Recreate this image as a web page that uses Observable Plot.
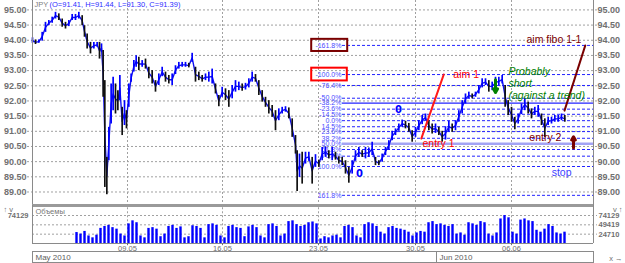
<!DOCTYPE html>
<html><head><meta charset="utf-8">
<script src="https://cdn.jsdelivr.net/npm/d3@7"></script>
<script src="https://cdn.jsdelivr.net/npm/@observablehq/plot@0.6"></script>
<style>
body{margin:0;background:#fff;width:625px;height:263px;overflow:hidden;position:relative}
#price,#vol,#month{position:absolute;left:0}
#price{top:0}
#vol{top:203px}
#month{top:251px}
svg{display:block;overflow:visible}
g[aria-label="y-axis tick label"] text{font-weight:bold}
</style></head><body>
<div id="price"></div><div id="vol"></div><div id="month"></div>
<script>
// ---------- data ----------
const symbol = "JPY";
const lastBarKeys = ["O","H","L","C"];
const lastBarVals = [91.41, 91.44, 91.30, 91.39];

// hourly bars sampled (bar index, high, low)
const barIdx = [0,3.75,7.9,12.1,16.25,20.4,24.6,28.75,32.9,37.1,41.25,45.4,49.6,53.75,57.9,62.1,65,68.3,72.5,76.7,80.8,83.75,86.25,88.3,90.4,92.9,95.4,98.3,100.8,103.75,106.7,109.2,112.1,115,117.5,120.4,123.3,126.7,129.6,132.9,137.1,141.25,145.4,149.6,153.75,157.9,162.1,166.25,170.4,174.6,178.75,182.9,187.1,191.25,195.4,199.6,203.75,207.9,212.1,216.25,220.4,224.6,228.75,232.9,
237.1,241.25,245.4,249.6,253.75,257.9,262.1,266.25,270.4,274.6,278.75,282.9,287.1,291.25,295.4,299.6,303.75,307.9,312.1,316.25,320.4,324.6,328.75,330.8,333.75,337.1,341.25,345.4,349.6,353.75,357.9,362.1,366.25,370.4,374.6,378.75,382.9,387.1,391.25,395.4,399.6,403.75,407.9,412.1,416.25,420.4,424.6,428.75,432.9,437.1,441.25,445.4,449.6,453.75,457.9,462.1,
466.25,470.4,474.6,478.75,482.9,487.1,491.25,495.4,499.6,503.75,507.9,512.1,516.25,520.4,524.6,528.75,532.9,537.1,541.25,545.4,549.6,553.75,557.9,562.1,566.25,570.4,574.6,578.75,582.9,587.1,590.8,594.6,598.75,602.9,607.1,611.25,615.4,619.6,623.75,627.9,632.1,636.25,640.4,644.6,648.75,652.9,657.1,661.25,665.4];
const barHigh = [94.08,94.01,94.01,94.26,94.59,94.65,94.76,94.92,94.87,94.70,94.59,94.65,94.85,94.85,94.92,94.81,94.48,94.21,93.93,93.93,93.93,93.93,93.88,93.66,92.67,90.14,91.13,92.56,92.78,92.56,92.34,92.84,91.79,92.01,91.68,92.56,92.89,93.33,93.49,93.44,93.33,93.38,93.11,93.00,92.67,92.89,93.11,92.95,92.84,92.89,93.16,93.27,93.27,93.27,93.24,93.57,93.11,92.95,92.84,92.89,92.95,93.05,92.56,92.18,
92.45,92.40,92.34,92.51,92.67,92.62,92.56,92.58,92.73,92.95,92.87,92.67,92.34,92.12,92.01,91.85,91.68,91.74,91.79,91.81,91.77,91.41,90.86,90.36,90.25,90.31,90.31,90.31,90.14,90.23,90.05,90.47,90.49,90.36,90.47,90.31,90.16,90.14,90.03,89.81,90.03,90.36,90.47,90.36,90.47,90.45,90.64,90.14,90.03,90.25,90.47,90.69,91.00,91.08,91.24,91.37,
91.33,91.26,91.02,91.13,91.35,91.52,91.57,91.35,91.24,91.24,91.13,91.00,91.15,91.33,91.24,91.35,91.68,92.01,92.23,92.29,92.23,92.29,92.51,92.73,92.73,92.67,92.62,92.78,92.78,92.84,92.51,92.01,91.79,91.46,91.57,91.90,92.07,91.96,91.74,91.79,91.85,91.57,91.41,91.46,91.46,91.52,91.52,91.57,91.52];
const barLow = [93.90,93.86,93.90,93.97,94.26,94.48,94.56,94.70,94.65,94.43,94.37,94.45,94.65,94.65,94.70,94.48,94.10,93.71,93.55,93.71,93.77,93.38,93.60,92.12,89.15,88.91,90.03,91.24,91.68,91.57,91.68,92.01,90.86,91.19,91.08,91.79,92.62,92.95,93.11,93.00,93.11,93.05,92.73,92.56,92.29,92.51,92.80,92.62,92.56,92.51,92.87,93.05,93.11,93.11,93.09,93.27,92.62,92.67,92.62,92.67,92.62,92.56,92.23,91.81,
92.12,92.01,91.79,92.07,92.29,92.34,92.32,92.36,92.43,92.62,92.62,92.18,91.96,91.79,91.57,91.46,91.02,91.35,91.57,91.63,91.41,90.80,90.25,89.02,89.48,89.26,89.92,90.01,89.26,89.81,89.81,90.03,90.14,90.09,90.03,90.05,89.92,89.87,89.59,89.29,89.59,90.01,90.14,90.14,90.09,90.14,90.20,89.87,89.87,89.98,90.20,90.38,90.69,90.86,91.00,91.13,
91.08,90.97,90.64,90.80,91.02,91.22,91.33,91.02,90.91,90.93,90.86,90.64,90.71,90.97,90.97,91.02,91.30,91.57,91.90,92.07,92.07,92.12,92.23,92.43,92.51,92.29,92.34,92.43,92.51,92.56,91.79,91.52,91.30,91.05,91.24,91.55,91.68,91.57,91.41,91.52,91.46,91.19,90.80,91.19,91.24,91.30,91.30,91.35,91.30];

// volume (bar index, volume)
const volIdx = [55,60,65,70,75,80,85,90,95,100,105,110,115,120,125,130,135,140,145,150,155,160,165,170,175,180,185,190,195,200,205,210,215,220,225,230,235,240,245,250,255,260,265,270,275,280,285,290,295,300,305,310,315,320,325,330,335,340,345,350,355,360,365,370,375,380,385,390,395,400,405,410,415,420,425,430,435,440,445,450,455,460,465,470,475,480,485,490,495,500,505,510,515,520,525,530,535,540,545,550,555,560,565,570,575,580,585,590,595,600,605,610,615,620,625,630,635,640,645,650,655,660,665];
const volVals = [29000,25000,32000,20000,15000,22000,40000,45000,48000,42000,38000,25000,20000,52000,60000,55000,20000,15000,40000,42000,38000,18000,25000,45000,48000,40000,44000,15000,18000,47000,45000,40000,15000,50000,52000,48000,20000,15000,45000,48000,42000,40000,18000,44000,48000,42000,20000,15000,50000,52000,45000,20000,25000,58000,60000,50000,45000,48000,55000,57000,52000,12000,18000,15000,20000,22000,15000,45000,48000,42000,20000,15000,50000,55000,52000,45000,30000,25000,42000,45000,40000,38000,35000,30000,20000,28000,32000,30000,55000,58000,50000,52000,48000,45000,50000,25000,28000,22000,55000,52000,48000,58000,55000,25000,20000,28000,65000,74000,68000,30000,25000,62000,65000,60000,58000,35000,30000,38000,50000,45000,28000,25000,30000];
const volTicks = [24710, 49419, 74129];

const priceTicks = [89, 89.5, 90, 90.5, 91, 91.5, 92, 92.5, 93, 93.5, 94, 94.5, 95];
const weekTickIdx = [118.75, 237.5, 357.5, 478.75, 598.75];
const weekLabels = ["09.05", "16.05", "23.05", "30.05", "06.06"];
const months = ["May 2010", "Jun 2010"];
const monthStartIdx = [0, 505];

// Fibonacci levels
const fibLabels = ["-161.8%","-100.0%","-76.4%","-50.0%","-38.2%","-23.6%","-14.5%","0.0%","14.5%","23.6%","38.2%","50.0%","61.8%","76.4%","100.0%","161.8%"];
const fibPrices = [93.83, 92.87, 92.51, 92.09, 91.93, 91.73, 91.56, 91.35, 91.15, 90.99, 90.77, 90.59, 90.40, 90.18, 89.84, 88.89];
const fibStartIdx = 387.5;

// annotations
const aim1Line = {idx: [486, 514], price: [90.76, 92.87]};
const fiboLine = {idx: [665, 691], price: [91.68, 93.83]};
const redNotes = {text: ["aim 1", "entry 1"], idx: [526, 487.5], price: [92.87, 90.60]};
const maroonNotes = {text: ["aim fibo 1-1", "entry 2"], idx: [617.5, 621], price: [94.03, 90.80]};
const greenNote = {text: ["Probably", "short", "(against a trend)"], idx: [595, 595, 595], price: [92.96, 92.58, 92.19]};
const stopNote = {text: ["stop"], idx: [649], price: [89.64]};
const zeroMarks = {idx: [457.5, 408.75], price: [91.72, 89.61]};
const greenArrow = {idx: 578.75, from: 92.70, to: 92.28};
const maroonArrow = {idx: 676.25, from: 90.45, to: 90.82};

// ---------- build ----------
const X_DOMAIN = [0, 701.25];
const FONT = "Liberation Sans, Arial, sans-serif";
const bars = barIdx.map((x, i) => ({x, hi: barHigh[i], lo: barLow[i], mid: (barHigh[i] + barLow[i]) / 2}));
bars.forEach((b, i) => { b.up = i === 0 ? true : b.mid >= bars[i - 1].mid; });
const fibs = fibLabels.map((label, i) => ({label, p: fibPrices[i]}));
const dashedFibs = fibs.filter(f => f.label !== "-38.2%" && f.label !== "50.0%");
const zip = o => o.idx.map((x, i) => ({x, p: o.price[i], t: o.text ? o.text[i] : null}));
const boxes = [{label: "-161.8%", color: "#7a0000"}, {label: "-100.0%", color: "#ff0000"}]
  .map(b => ({...b, p: fibs.find(f => f.label === b.label).p}));
const weekFmt = new Map(weekTickIdx.map((d, i) => [d, weekLabels[i]]));
const header = "(" + lastBarKeys.map((k, i) => k + "=" + lastBarVals[i].toFixed(2)).join(", ") + ")";

const GRID = "#a0a0a0";
const BLUE = "#2323ff";

const price = Plot.plot({
  width: 625, height: 205,
  marginLeft: 32, marginRight: 32, marginTop: 0, marginBottom: 0,
  style: {fontFamily: FONT, fontSize: "9px", background: "transparent"},
  x: {domain: X_DOMAIN, axis: null},
  y: {domain: [88.555, 95.31], axis: null},
  marks: [
    Plot.ruleY(priceTicks, {stroke: GRID, strokeDasharray: "2,2", insetLeft: -5, insetRight: -4}),
    Plot.ruleX(weekTickIdx, {stroke: GRID, strokeDasharray: "2,2"}),
    Plot.ruleY(dashedFibs, {y: "p", x1: fibStartIdx, x2: X_DOMAIN[1], stroke: BLUE, strokeDasharray: "3,2"}),
    Plot.ruleY(fibs.filter(f => f.label === "50.0%"), {y: "p", x1: fibStartIdx, x2: X_DOMAIN[1], stroke: "#a3a3f5", strokeWidth: 2.5}),
    Plot.ruleY(fibs.filter(f => f.label === "-38.2%"), {y: "p", x1: fibStartIdx, x2: X_DOMAIN[1], stroke: BLUE, strokeWidth: 1.3}),
    Plot.text(fibs, {x: fibStartIdx - 1.3, y: "p", text: "label", textAnchor: "end", fill: "#4a4aff", fontSize: 7}),
    Plot.rect(boxes.filter(b => b.color === "#7a0000"), {x1: 349, x2: 394, y1: d => d.p - 0.2, y2: d => d.p + 0.2, stroke: "#7a0000", strokeWidth: 2, fill: "none"}),
    Plot.rect(boxes.filter(b => b.color === "#ff0000"), {x1: 349, x2: 393.5, y1: d => d.p - 0.21, y2: d => d.p + 0.21, stroke: "#ff0000", strokeWidth: 2, fill: "none"}),
    Plot.line(bars, {x: "x", y: "mid", stroke: "#1010ee", strokeWidth: 1.4}),
    Plot.ruleX(bars.filter(b => b.up), {x: "x", y1: "lo", y2: "hi", stroke: "#0000ff", strokeWidth: 1.7}),
    Plot.ruleX(bars.filter(b => !b.up), {x: "x", y1: "lo", y2: "hi", stroke: "#111", strokeWidth: 1.7}),
    Plot.line(zip(aim1Line), {x: "x", y: "p", stroke: "#ff1a1a", strokeWidth: 2}),
    Plot.line(zip(fiboLine), {x: "x", y: "p", stroke: "#7a0000", strokeWidth: 2}),
    Plot.text(zip(redNotes), {x: "x", y: "p", text: "t", textAnchor: "start", fill: "#ff0000", fontSize: 10.5}),
    Plot.text(zip(maroonNotes), {x: "x", y: "p", text: "t", textAnchor: "start", fill: "#7a0000", fontSize: 10.5}),
    Plot.text(zip(greenNote), {x: "x", y: "p", text: "t", textAnchor: "start", fill: "#008000", fontSize: 10.5, fontStyle: "italic"}),
    Plot.text(zip(stopNote), {x: "x", y: "p", text: "t", textAnchor: "start", fill: "#3d3dff", fontSize: 10.5}),
    Plot.text(zip(zeroMarks), {x: "x", y: "p", text: () => "0", fill: "#0000ff", fontSize: 10, fontWeight: "bold", fontFamily: "DejaVu Sans"}),
    Plot.arrow([greenArrow], {x: "idx", y1: "from", y2: "to", stroke: "#008000", strokeWidth: 3, headLength: 7}),
    Plot.arrow([maroonArrow], {x: "idx", y1: "from", y2: "to", stroke: "#7a0000", strokeWidth: 3, headLength: 7}),
    Plot.ruleX([X_DOMAIN[0], X_DOMAIN[1]], {stroke: "#8a8a8a"}),
    Plot.text([symbol], {frameAnchor: "top-left", text: d => d, dx: 2, dy: 1, lineAnchor: "top", textAnchor: "start", fill: "#808080", fontSize: 7.5}),
    Plot.text([header], {frameAnchor: "top-left", text: d => d, dx: 17, dy: 1, lineAnchor: "top", textAnchor: "start", fill: "#2d2dff", fontSize: 7.5}),
    Plot.axisY(priceTicks, {anchor: "left", tickSize: 0, tickPadding: 6, tickFormat: d => d.toFixed(2), fontSize: 9, color: "#707070"}),
    Plot.axisY(priceTicks, {anchor: "right", tickSize: 0, tickPadding: 4, tickFormat: d => d.toFixed(2), fontSize: 9, color: "#707070"})
  ]
});
document.getElementById("price").append(price);

const VTOP = 105899;
const vol = Plot.plot({
  width: 625, height: 60,
  marginLeft: 32, marginRight: 32, marginTop: 0, marginBottom: 20,
  style: {fontFamily: FONT, fontSize: "8px", background: "transparent"},
  x: {domain: X_DOMAIN, axis: null},
  y: {domain: [0, VTOP], axis: null},
  marks: [
    Plot.ruleY(volTicks, {stroke: GRID, strokeDasharray: "2,2", insetRight: -4}),
    Plot.ruleX(weekTickIdx, {y1: -6000, y2: 100604, stroke: GRID, strokeDasharray: "2,2"}),
    Plot.ruleX(volIdx.map((x, i) => ({x, v: volVals[i]})), {x: "x", y1: 0, y2: "v", stroke: "#0000ff", strokeWidth: 2.4}),
    Plot.ruleY([0], {stroke: "#8a8a8a"}),
    Plot.ruleY([100604], {stroke: "#9a9a9a", strokeWidth: 3}),
    Plot.ruleX([X_DOMAIN[0], X_DOMAIN[1]], {y1: 0, y2: 100604, stroke: "#8a8a8a"}),
    Plot.text(["Объемы"], {frameAnchor: "top-left", text: d => d, dx: 3, dy: 5, lineAnchor: "top", textAnchor: "start", fill: "#777", fontSize: 7.5}),
    Plot.axisY(volTicks, {anchor: "right", tickSize: 0, tickPadding: 5, fontSize: 7.5, color: "#707070", tickFormat: d => String(d)}),
    Plot.axisY([volTicks[2]], {anchor: "left", tickSize: 0, tickPadding: 4, fontSize: 7.5, color: "#707070", tickFormat: d => String(d)}),
    Plot.axisX(weekTickIdx, {tickSize: 2, tickPadding: 0, fontSize: 7.5, color: "#707070", tickFormat: d => weekFmt.get(d)})
  ]
});
document.getElementById("vol").append(vol);

const month = Plot.plot({
  width: 625, height: 11,
  marginLeft: 32, marginRight: 32, marginTop: 0, marginBottom: 0,
  style: {fontFamily: FONT, fontSize: "8px", background: "transparent"},
  x: {domain: X_DOMAIN, axis: null},
  y: {domain: [0, 1], axis: null},
  marks: [
    Plot.frame({stroke: "#8a8a8a"}),
    Plot.ruleX([monthStartIdx[1]], {stroke: "#8a8a8a"}),
    Plot.text(months, {x: (d, i) => monthStartIdx[i], y: 0.5, text: d => d, dx: 3, textAnchor: "start", fill: "#606060", fontSize: 8})
  ]
});
document.getElementById("month").append(month);
</script>
</body></html>
